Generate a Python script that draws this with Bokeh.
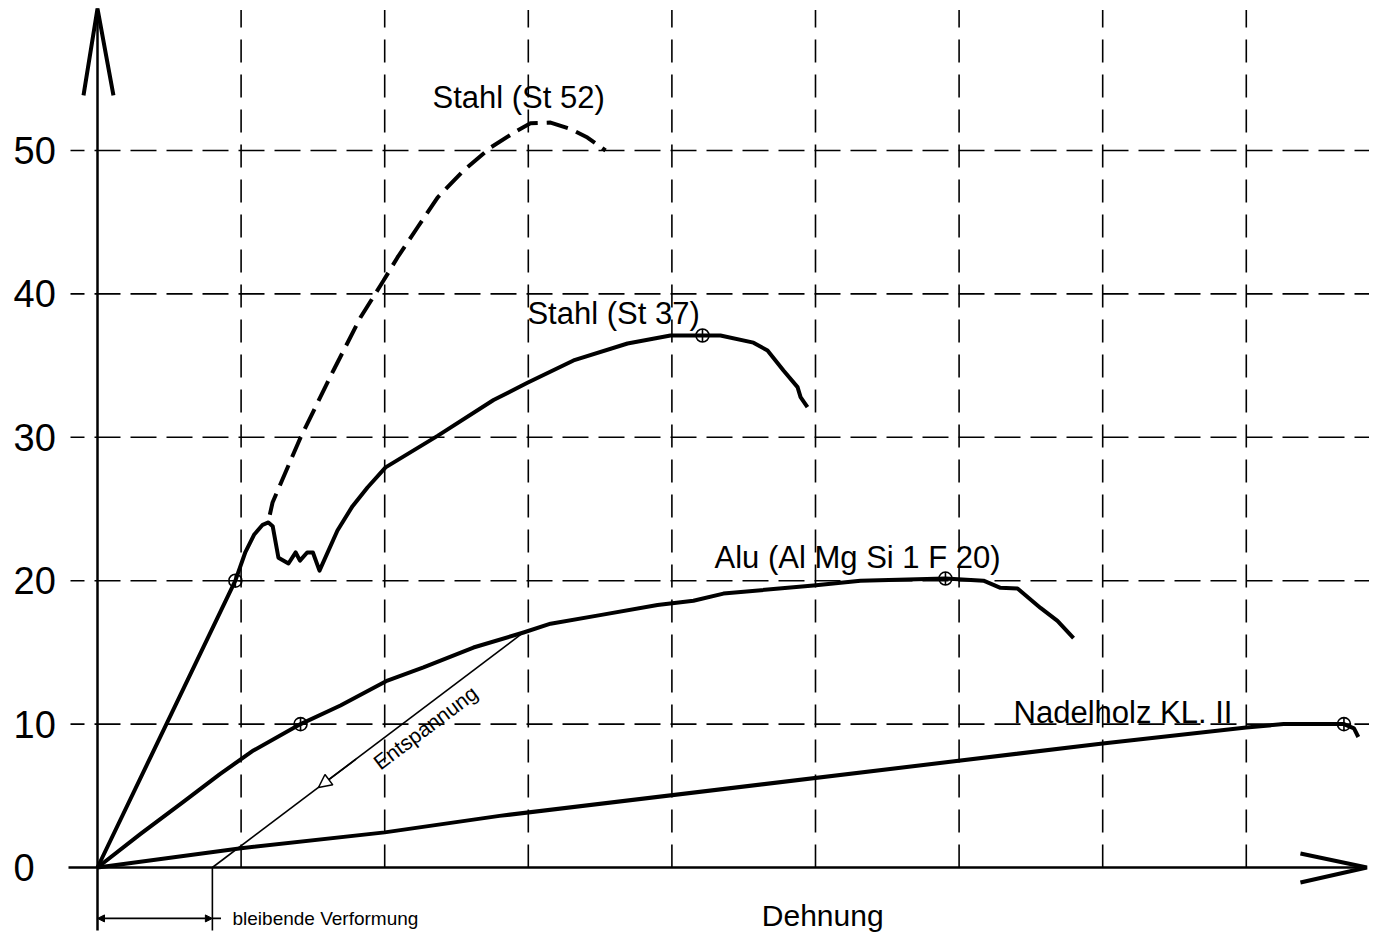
from bokeh.plotting import figure
from bokeh.models import Range1d, Arrow, NormalHead
from bokeh.core.properties import value
from bokeh.embed import file_html
from bokeh.resources import INLINE

# ---- data (strain in grid units, stress) ----
st37_x = [0.0, 0.96, 1.03, 1.09, 1.15, 1.19, 1.22, 1.26, 1.33, 1.38, 1.41, 1.46, 1.50, 1.546,
          1.671, 1.776, 1.880, 2.006, 2.368, 2.758, 2.994, 3.315, 3.691, 3.990, 4.213, 4.338,
          4.568, 4.666, 4.777, 4.875, 4.896, 4.944]
st37_y = [0.0, 20.0, 22.0, 23.2, 23.9, 24.06, 23.8, 21.6, 21.2, 21.97, 21.4, 21.97, 21.97, 20.7,
          23.5, 25.2, 26.5, 27.9, 30.1, 32.6, 33.8, 35.36, 36.54, 37.1, 37.1, 37.1,
          36.6, 36.05, 34.66, 33.5, 32.8, 32.1]

st52_x = [1.20, 1.219, 1.414, 1.643, 1.831, 1.992, 2.089, 2.228, 2.368, 2.549, 2.737, 2.925,
          3.015, 3.155, 3.294, 3.412, 3.538]
st52_y = [24.6, 25.45, 29.99, 34.66, 38.35, 40.93, 42.54, 44.63, 46.72, 48.6, 50.2, 51.4,
          51.9, 51.95, 51.5, 50.9, 50.0]

alu_x = [0.0, 0.30, 0.60, 0.85, 1.086, 1.414, 1.692, 2.019, 2.27, 2.618, 2.967, 3.155, 3.5,
         3.9, 4.150, 4.359, 4.986, 5.313, 5.905, 6.170, 6.288, 6.407, 6.567, 6.685, 6.797]
alu_y = [0.0, 2.35, 4.6, 6.5, 8.16, 10.0, 11.3, 13.04, 13.95, 15.34, 16.39, 17.0, 17.6,
         18.3, 18.6, 19.1, 19.67, 20.0, 20.15, 20.0, 19.5, 19.46, 18.1, 17.2, 16.0]

holz_x = [0.0, 1.0, 2.0, 2.8, 7.0, 8.0, 8.26, 8.68, 8.75, 8.78]
holz_y = [0.0, 1.35, 2.45, 3.6, 8.65, 9.76, 10.0, 10.0, 9.7, 9.1]

unload_x = [2.967, 0.80]
unload_y = [16.39, 0.0]

marker_x = [0.96, 1.414, 4.213, 5.905, 8.68]
marker_y = [20.0, 10.0, 37.1, 20.15, 10.0]

y_ticks = [0, 10, 20, 30, 40, 50]
x_grid = [1, 2, 3, 4, 5, 6, 7, 8]

labels = ["Stahl (St 52)", "Stahl (St 37)", "Alu (Al Mg Si 1 F 20)", "Nadelholz KL. II"]
label_x = [2.333, 2.994, 4.297, 6.379]
label_y = [53.7, 38.6, 21.6, 10.8]

x_title = "Dehnung"
dim_text = "bleibende Verformung"
unload_text = "Entspannung"

# ---- layout constants ----
X0, X1 = -0.6755, 8.858
Y0, Y1 = -4.672, 60.46
FONT = "Liberation Sans"

p = figure(width=1369, height=934, x_range=Range1d(X0, X1), y_range=Range1d(Y0, Y1),
           output_backend="svg", toolbar_location=None, min_border=0,
           x_axis_location=None, y_axis_location=None)
p.grid.visible = False
p.outline_line_color = None
p.background_fill_color = "white"

# grid lines (dashed)
gy = [t for t in y_ticks if t > 0]
p.segment(x0=[-0.188] * len(gy), y0=gy, x1=[X1] * len(gy), y1=gy,
          line_color="black", line_width=1.6, line_dash="26 10", line_dash_offset=12)
p.segment(x0=x_grid, y0=[0] * len(x_grid), x1=x_grid, y1=[59.8] * len(x_grid),
          line_color="black", line_width=1.6, line_dash="23 12")

# axes with arrows
p.line([-0.202, 8.84], [0, 0], line_color="black", line_width=2.5)
p.line([8.377, 8.84, 8.377], [0.976, 0, -1.046], line_color="black", line_width=4)
p.line([0, 0], [-4.8, 59.9], line_color="black", line_width=2.5)
p.line([-0.0975, 0, 0.111], [53.84, 59.9, 53.84], line_color="black", line_width=4)

# tick labels
p.text(x=[-0.585] * len(y_ticks), y=y_ticks, text=[str(t) for t in y_ticks],
       text_font=value(FONT), text_font_size="38px", text_align="left",
       text_baseline="middle", text_color="black")

# curves
p.line(st52_x, st52_y, line_color="black", line_width=4, line_dash="22 9")
p.line(st37_x, st37_y, line_color="black", line_width=4, line_join="round")
p.line(alu_x, alu_y, line_color="black", line_width=4, line_join="round")
p.line(holz_x, holz_y, line_color="black", line_width=4, line_join="round")

# unloading line
p.line(unload_x, unload_y, line_color="black", line_width=1.6)
p.add_layout(Arrow(x_start=1.80, y_start=7.55, x_end=1.539, y_end=5.58,
                   line_color="black", line_width=1.6,
                   end=NormalHead(size=13, fill_color="white", line_color="black", line_width=1.5)))

# markers
p.scatter(marker_x, marker_y, marker="circle_cross", size=13, fill_color=None,
          line_color="black", line_width=1.6)

# labels
p.text(x=label_x, y=label_y, text=labels, text_font=value(FONT), text_font_size="31px",
       text_align="left", text_baseline="middle", text_color="black")
p.text(x=[5.05], y=[-3.35], text=[x_title], text_font=value(FONT), text_font_size="30px",
       text_align="center", text_baseline="middle", text_color="black")
p.text(x=[2.284], y=[9.76], text=[unload_text], text_font=value(FONT), text_font_size="21px",
       angle=0.646, text_align="center", text_baseline="middle", text_color="black")

# dimension for permanent deformation
DIM_Y = -3.55
p.line([unload_x[1], unload_x[1]], [0, -4.4], line_color="black", line_width=1.6)
p.line([0, 0], [-4.4, -4.8], line_color="white", line_width=3)
p.line([unload_x[1], 0.86], [DIM_Y, DIM_Y], line_color="black", line_width=1.6)
p.add_layout(Arrow(x_start=0, y_start=DIM_Y, x_end=unload_x[1], y_end=DIM_Y,
                   line_color="black", line_width=1.6,
                   start=NormalHead(size=7, fill_color="black", line_color="black"),
                   end=NormalHead(size=7, fill_color="black", line_color="black")))
p.text(x=[0.94], y=[DIM_Y], text=[dim_text], text_font=value(FONT), text_font_size="19px",
       text_align="left", text_baseline="middle", text_color="black")

open("out.html", "w").write(file_html(p, INLINE))
